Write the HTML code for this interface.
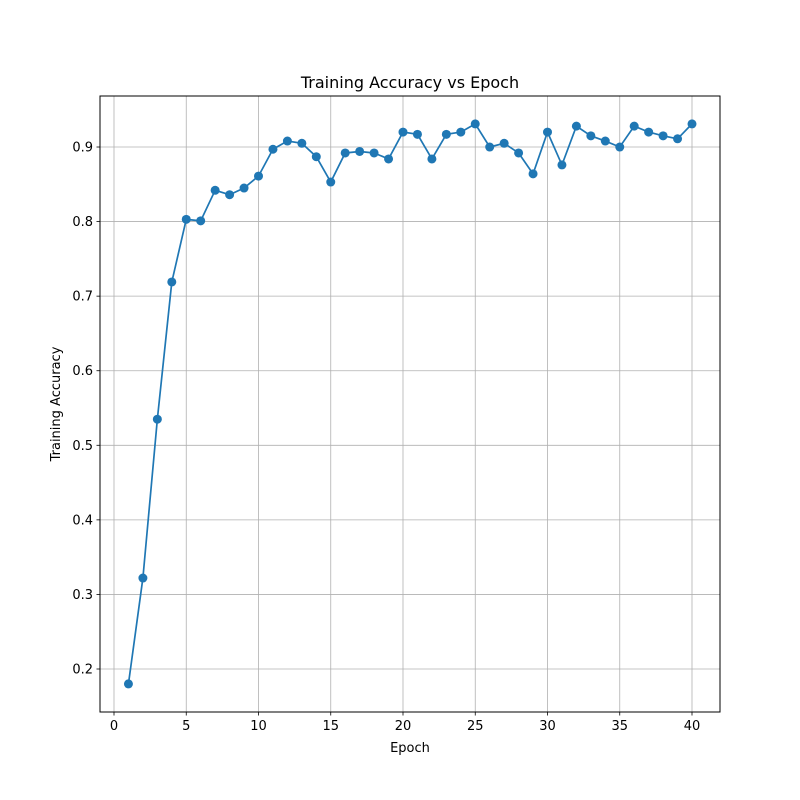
<!DOCTYPE html>
<html><head><meta charset="utf-8"><style>
html,body{margin:0;padding:0;background:#fff}
svg{display:block;font-family:"DejaVu Sans","Liberation Sans",sans-serif}
</style></head><body>
<svg id="chart" width="800" height="800" xmlns="http://www.w3.org/2000/svg">
<rect width="800" height="800" fill="#fff"/>
<g id="grid"></g>
<g id="series"></g>
<rect x="100" y="96" width="620" height="616" fill="none" stroke="#000" stroke-width="1"/>
<g id="xticks"></g><g id="yticks"></g>
<text x="410" y="88" text-anchor="middle" font-size="16">Training Accuracy vs Epoch</text>
<text x="410" y="752" text-anchor="middle" font-size="13">Epoch</text>
<text transform="translate(60,404) rotate(-90)" text-anchor="middle" font-size="13">Training Accuracy</text>
</svg>
<script>
const epochs=[1,2,3,4,5,6,7,8,9,10,11,12,13,14,15,16,17,18,19,20,21,22,23,24,25,26,27,28,29,30,31,32,33,34,35,36,37,38,39,40];
const accuracy=[0.180,0.322,0.535,0.719,0.803,0.801,0.842,0.836,0.845,0.861,0.897,0.908,0.905,0.887,0.853,0.892,0.894,0.892,0.884,0.920,0.917,0.884,0.917,0.920,0.931,0.900,0.905,0.892,0.864,0.920,0.876,0.928,0.915,0.908,0.900,0.928,0.920,0.915,0.911,0.931];
const xTicks=[0,5,10,15,20,25,30,35,40];
const yTicks=[0.2,0.3,0.4,0.5,0.6,0.7,0.8,0.9];
const NS="http://www.w3.org/2000/svg";
function sx(v){return 114+v*14.45;}
function sy(v){return 669-(v-0.2)*745.7;}
function mk(tag,attrs,parent){const e=document.createElementNS(NS,tag);for(const k in attrs)e.setAttribute(k,attrs[k]);parent.appendChild(e);return e;}
const grid=document.getElementById('grid'),xt=document.getElementById('xticks'),yt=document.getElementById('yticks'),ser=document.getElementById('series');
xTicks.forEach(t=>{const x=sx(t);
 const g=mk('line',{x1:x,x2:x,y1:96,y2:712,stroke:'#b0b0b0','stroke-width':0.8},grid);
 
 
 mk('line',{x1:x,x2:x,y1:712,y2:715.5,stroke:'#000','stroke-width':0.8},xt);
 const l=mk('text',{x:x,y:730,'text-anchor':'middle','font-size':13},xt);l.textContent=t;
 
 
});
yTicks.forEach(t=>{const y=sy(t);
 const g=mk('line',{x1:100,x2:720,y1:y,y2:y,stroke:'#b0b0b0','stroke-width':0.8},grid);
 
 
 mk('line',{x1:96.5,x2:100,y1:y,y2:y,stroke:'#000','stroke-width':0.8},yt);
 const l=mk('text',{x:93,y:y+4.5,'text-anchor':'end','font-size':13},yt);l.textContent=t.toFixed(1);
 
 
});
const pts=epochs.map((e,i)=>sx(e)+','+sy(accuracy[i])).join(' ');
const pl=mk('polyline',{points:pts,fill:'none',stroke:'#1f77b4','stroke-width':1.7},ser);


epochs.forEach((e,i)=>{const c=mk('circle',{cx:sx(e),cy:sy(accuracy[i]),r:4.5,fill:'#1f77b4'},ser);
 
 
});
</script>
</body></html>
